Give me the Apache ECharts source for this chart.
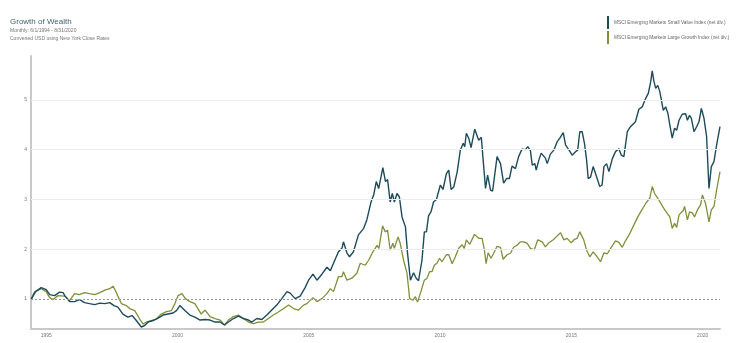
<!DOCTYPE html>
<html>
<head>
<meta charset="utf-8">
<script src="https://cdn.jsdelivr.net/npm/echarts@6/dist/echarts.min.js"></script>
<style>
html,body{margin:0;padding:0;background:#fff;}
#chart{width:740px;height:343px;}
</style>
</head>
<body>
<div id="chart"></div>
<script>
// ---- Data ----
const seriesNames = [
  "MSCI Emerging Markets Small Value Index (net div.)",
  "MSCI Emerging Markets Large Growth Index (net div.)"
];
const xTickYears = [1995, 2000, 2005, 2010, 2015, 2020];
const yTickValues = [1, 2, 3, 4, 5];
const gridValues = [2, 3, 4, 5];
const baselineValue = 1;

const smallValueYears = [1994.43,1994.56,1994.81,1995.00,1995.13,1995.32,1995.51,1995.64,1995.72,1995.89,
1996.08,1996.27,1996.46,1996.65,1996.85,1997.04,1997.23,1997.42,1997.58,1997.73,
1997.92,1998.11,1998.27,1998.43,1998.62,1998.75,1998.88,1999.07,1999.26,1999.45,
1999.64,1999.83,1999.96,2000.09,2000.28,2000.47,2000.66,2000.86,2001.05,2001.24,
2001.43,2001.62,2001.79,2001.94,2002.13,2002.32,2002.51,2002.70,2002.83,2003.02,
2003.21,2003.40,2003.59,2003.78,2003.97,2004.17,2004.29,2004.48,2004.67,2004.86,
2004.99,2005.16,2005.31,2005.50,2005.69,2005.82,2005.94,2006.13,2006.26,2006.32,
2006.45,2006.55,2006.70,2006.89,2007.09,2007.21,2007.37,2007.47,2007.57,2007.66,
2007.82,2007.92,2008.00,2008.10,2008.18,2008.26,2008.36,2008.45,2008.55,2008.68,
2008.76,2008.87,2008.99,2009.09,2009.18,2009.31,2009.40,2009.48,2009.56,2009.66,
2009.75,2009.86,2010.01,2010.11,2010.24,2010.33,2010.42,2010.52,2010.65,2010.77,
2010.88,2010.94,2011.00,2011.09,2011.18,2011.32,2011.47,2011.57,2011.64,2011.73,
2011.81,2011.92,2012.00,2012.17,2012.30,2012.42,2012.53,2012.64,2012.74,2012.87,
2012.99,2013.12,2013.25,2013.34,2013.44,2013.51,2013.61,2013.66,2013.76,2013.85,
2014.01,2014.08,2014.20,2014.33,2014.46,2014.56,2014.69,2014.78,2014.90,2015.03,
2015.16,2015.24,2015.32,2015.41,2015.50,2015.58,2015.64,2015.73,2015.83,2015.92,
2015.98,2016.08,2016.17,2016.24,2016.34,2016.43,2016.56,2016.68,2016.81,2016.90,
2017.00,2017.13,2017.25,2017.44,2017.57,2017.70,2017.83,2017.93,2018.02,2018.08,
2018.14,2018.21,2018.29,2018.37,2018.50,2018.59,2018.68,2018.75,2018.84,2018.93,
2019.01,2019.10,2019.22,2019.35,2019.42,2019.50,2019.57,2019.67,2019.77,2019.86,
2019.95,2020.05,2020.15,2020.24,2020.33,2020.43,2020.53,2020.66];
const smallValueIndex = [1.00,1.14,1.23,1.19,1.09,1.07,1.14,1.13,1.06,0.95,
0.95,0.99,0.93,0.91,0.89,0.92,0.91,0.93,0.87,0.84,
0.70,0.64,0.67,0.57,0.44,0.47,0.54,0.57,0.62,0.68,
0.70,0.72,0.77,0.87,0.77,0.68,0.64,0.58,0.59,0.58,
0.54,0.54,0.48,0.54,0.61,0.66,0.61,0.58,0.54,0.61,
0.59,0.68,0.78,0.88,1.01,1.15,1.12,1.01,1.06,1.23,
1.38,1.50,1.38,1.50,1.64,1.57,1.72,1.95,2.02,2.15,
1.93,1.85,1.95,2.29,2.42,2.59,2.95,3.09,3.36,3.22,
3.64,3.36,3.40,2.95,3.12,2.95,3.12,3.05,2.65,2.45,
1.92,1.38,1.53,1.42,1.37,1.78,2.35,2.35,2.67,2.76,
2.95,3.00,3.29,3.20,3.52,3.59,3.20,3.25,3.55,3.99,
4.13,4.06,4.33,4.23,4.04,4.41,4.19,4.25,3.79,3.22,
3.49,3.19,3.17,3.86,3.72,3.33,3.42,3.42,3.67,3.62,
3.86,4.01,4.00,4.06,3.98,3.69,3.72,3.59,3.79,3.93,
3.83,3.72,3.91,3.99,4.16,4.23,4.34,4.09,4.00,3.89,
3.96,3.99,4.36,4.36,4.12,3.79,3.42,3.45,3.66,3.52,
3.49,3.26,3.29,3.66,3.72,3.56,3.82,3.96,4.02,3.89,
3.86,4.36,4.46,4.56,4.81,4.86,5.03,5.13,5.36,5.58,
5.38,5.23,5.29,5.16,4.79,4.86,4.72,4.49,4.23,4.43,
4.39,4.59,4.71,4.72,4.59,4.69,4.63,4.36,4.46,4.56,
4.83,4.63,4.26,3.22,3.66,3.76,4.09,4.46];

const largeGrowthYears = [1994.43,1994.62,1994.81,1995.00,1995.13,1995.26,1995.45,1995.70,1995.89,1996.08,
1996.27,1996.46,1996.65,1996.85,1997.04,1997.23,1997.42,1997.54,1997.63,1997.73,
1997.86,1998.05,1998.18,1998.37,1998.56,1998.69,1998.81,1999.00,1999.19,1999.38,
1999.58,1999.77,1999.90,2000.02,2000.17,2000.30,2000.47,2000.66,2000.81,2000.90,
2001.05,2001.24,2001.43,2001.62,2001.79,2001.94,2002.13,2002.32,2002.51,2002.70,
2002.89,2003.08,2003.27,2003.46,2003.65,2003.84,2004.04,2004.23,2004.42,2004.61,
2004.80,2004.93,2004.99,2005.16,2005.31,2005.50,2005.69,2005.82,2005.94,2006.13,
2006.26,2006.32,2006.45,2006.64,2006.83,2006.96,2007.15,2007.28,2007.44,2007.60,
2007.67,2007.81,2007.91,2008.00,2008.10,2008.20,2008.26,2008.40,2008.48,2008.61,
2008.74,2008.84,2008.97,2009.06,2009.14,2009.27,2009.40,2009.50,2009.60,2009.69,
2009.78,2009.88,2009.98,2010.07,2010.24,2010.33,2010.46,2010.58,2010.71,2010.84,
2010.92,2011.00,2011.13,2011.31,2011.47,2011.60,2011.69,2011.75,2011.83,2011.94,
2012.04,2012.17,2012.30,2012.40,2012.55,2012.68,2012.80,2012.93,2013.06,2013.19,
2013.32,2013.44,2013.59,2013.72,2013.89,2014.01,2014.14,2014.31,2014.46,2014.59,
2014.71,2014.84,2014.99,2015.12,2015.22,2015.32,2015.47,2015.58,2015.70,2015.83,
2015.98,2016.11,2016.24,2016.37,2016.52,2016.68,2016.81,2016.94,2017.06,2017.23,
2017.38,2017.53,2017.64,2017.83,2017.99,2018.08,2018.17,2018.33,2018.52,2018.65,
2018.75,2018.84,2018.93,2019.01,2019.10,2019.26,2019.31,2019.42,2019.50,2019.61,
2019.69,2019.80,2019.92,2019.99,2020.11,2020.24,2020.33,2020.43,2020.53,2020.66];
const largeGrowthIndex = [1.00,1.16,1.21,1.15,1.03,0.99,1.07,1.06,0.97,1.11,
1.09,1.13,1.11,1.09,1.13,1.18,1.21,1.26,1.18,1.06,
0.91,0.87,0.81,0.77,0.60,0.50,0.54,0.57,0.60,0.70,
0.75,0.77,0.91,1.07,1.11,1.01,0.95,0.91,0.78,0.70,
0.78,0.65,0.61,0.58,0.48,0.58,0.65,0.68,0.61,0.54,
0.51,0.54,0.54,0.61,0.68,0.74,0.81,0.88,0.81,0.78,
0.88,0.91,0.95,1.03,0.95,1.01,1.11,1.21,1.15,1.45,
1.45,1.55,1.38,1.42,1.52,1.72,1.68,1.78,1.95,2.08,
2.02,2.47,2.35,2.38,1.98,2.12,2.02,2.25,2.12,1.78,
1.52,1.01,0.98,1.05,0.94,1.15,1.38,1.42,1.55,1.55,
1.68,1.72,1.82,1.75,1.89,1.89,1.71,1.85,2.02,2.09,
2.02,2.19,2.10,2.30,2.22,2.22,1.98,1.71,1.93,1.82,
1.92,2.06,2.04,1.80,1.89,1.92,2.04,2.08,2.15,2.15,
2.12,2.02,1.99,2.19,2.15,2.05,2.13,2.19,2.27,2.33,
2.19,2.22,2.13,2.20,2.22,2.35,2.19,1.98,1.85,1.95,
1.85,1.75,1.93,1.91,2.04,2.17,2.14,2.04,2.17,2.32,
2.49,2.65,2.75,2.92,3.03,3.26,3.12,2.99,2.82,2.72,
2.65,2.42,2.52,2.44,2.69,2.78,2.86,2.59,2.75,2.73,
2.65,2.79,2.89,3.09,2.92,2.55,2.79,2.86,3.19,3.56];

// ---- Chart ----
const darkColor = '#1d4b5b';
const greenColor = '#808f3c';
const fontFamily = 'Liberation Sans, Arial, sans-serif';

const pair = (xs, ys) => xs.map((x, i) => [x, ys[i]]);

const chart = echarts.init(document.getElementById('chart'), null, {renderer: 'canvas'});
chart.setOption({
  animation: false,
  backgroundColor: '#fff',
  title: {
    text: 'Growth of Wealth',
    subtext: 'Monthly: 6/1/1994 - 8/31/2020\nConverted USD using New York Close Rates',
    left: 5,
    top: 13,
    itemGap: 1,
    textStyle: {fontFamily, fontSize: 8, fontWeight: 'normal', color: '#3f6170'},
    subtextStyle: {fontFamily, fontSize: 5, color: '#777', lineHeight: 8}
  },
  legend: {
    orient: 'vertical',
    left: 602,
    top: 11,
    itemWidth: 2,
    itemHeight: 13,
    itemGap: 2,
    icon: 'rect',
    textStyle: {fontFamily, fontSize: 4.8, color: '#666'},
    data: seriesNames
  },
  grid: {left: 31, right: 20, top: 56, bottom: 14, containLabel: false},
  xAxis: {
    type: 'value',
    min: 1994.42,
    max: 2020.66,
    axisLine: {show: true, onZero: false, lineStyle: {color: '#c9c9c9', width: 2}},
    axisTick: {show: false},
    splitLine: {show: false},
    axisLabel: {
      customValues: xTickYears,
      fontFamily, fontSize: 5, color: '#777', margin: 4,
      formatter: v => String(v)
    }
  },
  yAxis: {
    type: 'value',
    min: 0.4,
    max: 5.88,
    axisLine: {show: true, onZero: false, lineStyle: {color: '#c9c9c9', width: 2}},
    axisTick: {show: false},
    splitLine: {show: false},
    axisLabel: {
      customValues: yTickValues,
      fontFamily, fontSize: 5, color: '#777', margin: 4,
      formatter: v => String(v)
    }
  },
  series: [
    {
      name: 'grid',
      type: 'line',
      data: [],
      silent: true,
      z: 1,
      markLine: {
        silent: true,
        symbol: 'none',
        label: {show: false},
        animation: false,
        data: gridValues.map(v => ({yAxis: v, lineStyle: {color: '#ececec', width: 1, type: 'solid'}}))
          .concat([{yAxis: baselineValue, lineStyle: {color: '#9a9a9a', width: 1, type: [2, 2]}}])
      }
    },
    {
      name: seriesNames[0],
      type: 'line',
      data: pair(smallValueYears, smallValueIndex),
      showSymbol: false,
      z: 3,
      color: darkColor,
      lineStyle: {color: darkColor, width: 1.4}
    },
    {
      name: seriesNames[1],
      type: 'line',
      data: pair(largeGrowthYears, largeGrowthIndex),
      showSymbol: false,
      z: 2,
      color: greenColor,
      lineStyle: {color: greenColor, width: 1.3}
    }
  ]
});
</script>
</body>
</html>
